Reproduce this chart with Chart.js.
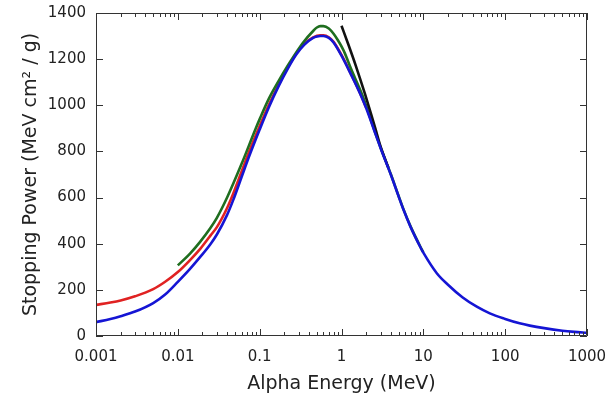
<!DOCTYPE html>
<html>
<head>
<meta charset="utf-8">
<script src="https://cdn.jsdelivr.net/npm/chart.js@4/dist/chart.umd.min.js"></script>
<style>
  html, body { margin: 0; padding: 0; background: #fff; }
  #wrap { width: 613px; height: 395px; }
</style>
</head>
<body>
<div id="wrap"><canvas id="spChart" width="613" height="395"></canvas></div>
<script>
// stopping power curves (x = MeV, y = MeV cm^2/g)
const redEnergy = [0.001, 0.0015, 0.002, 0.003, 0.005, 0.007, 0.01, 0.014, 0.019, 0.025, 0.03, 0.04, 0.0476, 0.06, 0.075, 0.1, 0.13, 0.17, 0.22, 0.28, 0.35, 0.45, 0.55, 0.6, 0.7, 0.8, 1.0, 1.3, 1.7, 2.0];
const redPower  = [135, 145, 154, 172, 203, 235, 277, 328, 380, 435, 472, 555, 618, 712, 803, 910, 1003, 1088, 1163, 1224, 1266, 1294, 1303, 1303, 1295, 1275, 1218, 1137, 1050, 990];

const greenEnergy = [0.01, 0.014, 0.0187, 0.025, 0.03, 0.04, 0.06, 0.088, 0.1, 0.13, 0.17, 0.22, 0.26, 0.34, 0.45, 0.5, 0.55, 0.6, 0.7, 0.8, 0.9, 1.0, 1.1, 1.3, 1.77, 2.0, 2.5, 3.0, 3.74, 4.0, 5.0, 5.71, 7.0, 9.14, 10];
const greenPower  = [306, 356, 408, 468, 512, 600, 745, 893, 940, 1030, 1105, 1172, 1212, 1272, 1322, 1337, 1343, 1343, 1333, 1310, 1283, 1255, 1225, 1160, 1050, 998, 896, 817, 729, 702, 606, 550, 474, 389, 363];

const blackEnergy = [1.0, 1.2, 1.5, 1.94, 2.3, 2.6, 3.0, 3.74];
const blackPower  = [1345, 1268, 1170, 1048, 962, 898, 822, 729];

const blueEnergy = [0.001, 0.0015, 0.002, 0.003, 0.005, 0.007, 0.01, 0.014, 0.019, 0.025, 0.03, 0.04, 0.0476, 0.06, 0.075, 0.1, 0.13, 0.17, 0.22, 0.28, 0.35, 0.45, 0.5, 0.55, 0.6, 0.7, 0.8, 1.0, 1.3, 1.7, 2.0, 2.5, 3.0, 3.74, 4.0, 5.0, 5.71, 7.0, 9.14, 10, 14.6, 20, 30, 45, 65, 100, 150, 200, 300, 500, 700, 1000];
const bluePower  = [60, 74, 86, 106, 143, 180, 235, 290, 345, 398, 440, 525, 590, 688, 782, 895, 993, 1082, 1158, 1220, 1262, 1292, 1298, 1300, 1300, 1292, 1272, 1215, 1135, 1048, 988, 893, 815, 727, 700, 604, 548, 472, 387, 361, 272, 222, 168, 127, 98, 74, 55, 45, 34, 23, 18, 14];

const xDecades = [0.001, 0.01, 0.1, 1, 10, 100, 1000];
const yTicks = [0, 200, 400, 600, 800, 1000, 1200, 1400];

const pts = (xs, ys) => xs.map((x, i) => ({ x: x, y: ys[i] }));

function line(label, xs, ys, color, order) {
    return {
        label: label,
        data: pts(xs, ys),
        borderColor: color,
        backgroundColor: color,
        borderWidth: 2.6,
        pointRadius: 0,
        cubicInterpolationMode: 'monotone',
        fill: false,
        order: order,
    };
}

// box round the plot + inward ticks on all four sides
const frameTicks = {
    id: 'frameTicks',
    afterDraw(chart) {
        const { ctx, chartArea: a, scales: { x, y } } = chart;
        ctx.save();
        ctx.strokeStyle = '#333';
        ctx.lineWidth = 1;
        ctx.beginPath();
        ctx.rect(Math.round(a.left) + 0.5, Math.round(a.top) + 0.5, Math.round(a.width) - 1, Math.round(a.height) - 1);
        ctx.stroke();

        ctx.beginPath();
        for (let d = -3; d <= 3; d++) {
            for (let k = 1; k <= 9; k++) {
                const v = k * Math.pow(10, d);
                if (v > 1000) break;
                const px = Math.round(x.getPixelForValue(v)) + 0.5;
                const len = k === 1 ? 7 : 4;
                ctx.moveTo(px, a.bottom); ctx.lineTo(px, a.bottom - len);
                ctx.moveTo(px, a.top); ctx.lineTo(px, a.top + len);
            }
        }
        yTicks.forEach(v => {
            const py = Math.round(y.getPixelForValue(v)) + 0.5;
            ctx.moveTo(a.left, py); ctx.lineTo(a.left + 7, py);
            ctx.moveTo(a.right, py); ctx.lineTo(a.right - 7, py);
        });
        ctx.stroke();
        ctx.restore();
    }
};

const tickFont = { family: 'DejaVu Sans', size: 15 };
const titleFont = { family: 'DejaVu Sans', size: 19 };

new Chart(document.getElementById('spChart'), {
    type: 'line',
    data: {
        datasets: [
            line('Red', redEnergy, redPower, '#e02222', 3),
            line('Green', greenEnergy, greenPower, '#1f6e1f', 2),
            line('Black', blackEnergy, blackPower, '#111111', 1),
            line('Blue', blueEnergy, bluePower, '#1515d4', 0),
        ],
    },
    options: {
        responsive: false,
        animation: false,
        layout: { padding: { top: 13, right: 26, left: 0, bottom: 0 } },
        plugins: { legend: { display: false }, tooltip: { enabled: false } },
        scales: {
            x: {
                type: 'logarithmic',
                min: 0.001,
                max: 1000,
                afterBuildTicks: s => { s.ticks = xDecades.map(v => ({ value: v })); },
                afterFit: s => { s.height = 59; s.paddingLeft = 0; s.paddingRight = 0; },
                grid: { display: false, drawTicks: false },
                border: { display: false },
                ticks: {
                    color: '#222',
                    font: tickFont,
                    padding: 12,
                    maxRotation: 0,
                    autoSkip: false,
                    callback: v => String(v),
                },
                title: { display: true, text: 'Alpha Energy (MeV)', color: '#222', font: titleFont, padding: { top: 0, bottom: 0 } },
            },
            y: {
                type: 'linear',
                min: 0,
                max: 1400,
                afterBuildTicks: s => { s.ticks = yTicks.map(v => ({ value: v })); },
                afterFit: s => { s.width = 96; s.paddingTop = 0; s.paddingBottom = 0; },
                grid: { display: false, drawTicks: false },
                border: { display: false },
                ticks: { color: '#222', font: tickFont, padding: 10, callback: v => String(v) },
                title: { display: true, text: 'Stopping Power (MeV cm² / g)', color: '#222', font: titleFont, padding: { top: 20, bottom: 0 } },
            },
        },
    },
    plugins: [frameTicks],
});
</script>
</body>
</html>
